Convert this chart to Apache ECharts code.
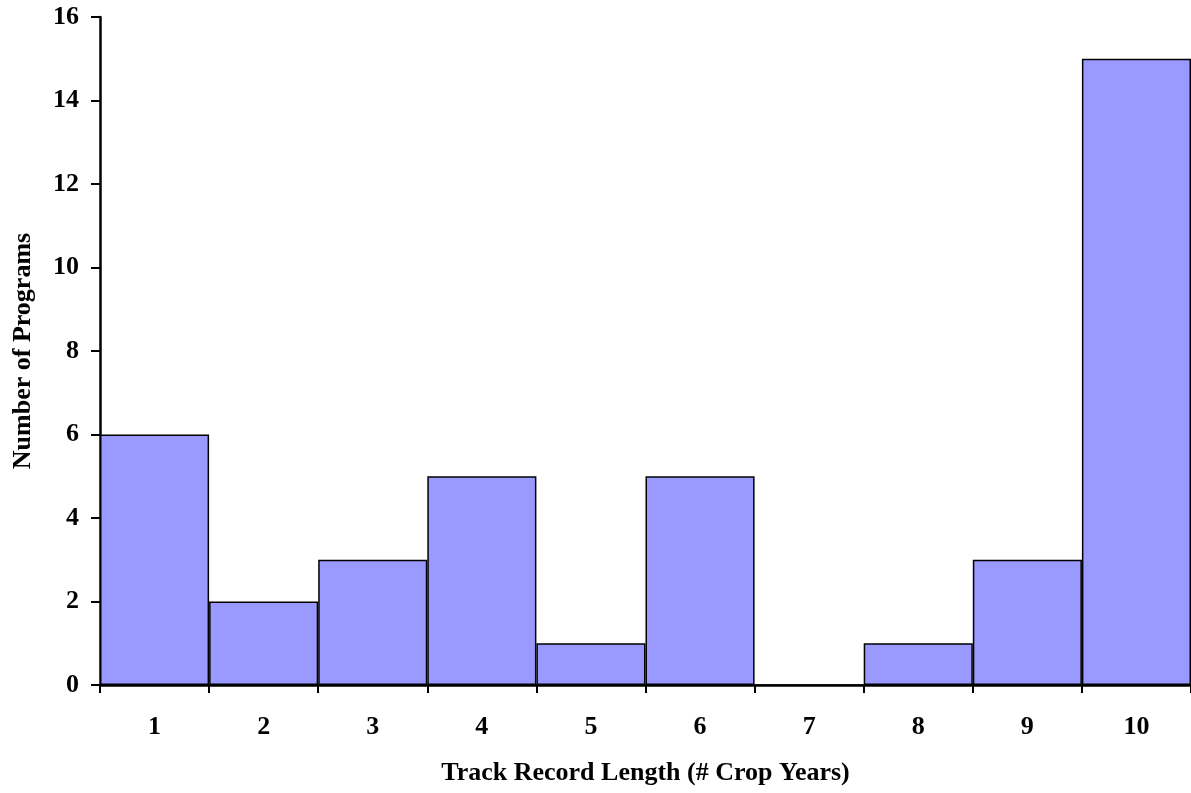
<!DOCTYPE html>
<html>
<head>
<meta charset="utf-8">
<script src="https://cdn.jsdelivr.net/npm/echarts@6/dist/echarts.min.js"></script>
<style>
  html, body { margin: 0; padding: 0; background: #fff; }
  #chart { width: 1191px; height: 793px; }
</style>
</head>
<body>
<div id="chart"></div>
<script>
// Track record lengths (crop years) and program counts
const trackYears = ['1', '2', '3', '4', '5', '6', '7', '8', '9', '10'];
const programCounts = [6, 2, 3, 5, 1, 5, 0, 1, 3, 15];
const yTicks = { min: 0, max: 16, step: 2 };

const fontFamily = '"Liberation Serif", "Times New Roman", serif';
const textStyle = { fontFamily, fontWeight: 'bold', fontSize: 26, color: '#000' };
const chart = echarts.init(document.getElementById('chart'), null, { renderer: 'canvas' });

chart.setOption({
  animation: false,
  backgroundColor: '#ffffff',
  grid: { left: 100, top: 17, width: 1093, bottom: 108, containLabel: false },
  xAxis: {
    type: 'category',
    data: trackYears,
    boundaryGap: true,
    name: 'Track Record Length (# Crop Years)',
    nameLocation: 'middle',
    nameGap: 75,
    nameTextStyle: textStyle,
    axisLine: { lineStyle: { color: '#000', width: 2.5 } },
    axisTick: { show: true, alignWithLabel: false, length: 8, lineStyle: { color: '#000', width: 2 } },
    axisLabel: Object.assign({ margin: 29 }, textStyle),
    splitLine: { show: false }
  },
  yAxis: {
    type: 'value',
    min: yTicks.min,
    max: yTicks.max,
    interval: yTicks.step,
    name: 'Number of Programs',
    nameLocation: 'middle',
    nameGap: 64,
    nameRotate: 90,
    nameTextStyle: textStyle,
    axisLine: { show: true, lineStyle: { color: '#000', width: 2.5 } },
    axisTick: { show: true, length: 9, lineStyle: { color: '#000', width: 2 } },
    axisLabel: Object.assign({ margin: 21 }, textStyle),
    splitLine: { show: false }
  },
  series: [{
    type: 'bar',
    data: programCounts,
    barCategoryGap: '0%',
    itemStyle: { color: '#9999FF', borderColor: '#000', borderWidth: 1.5 },
    emphasis: { disabled: true }
  }]
});
</script>
</body>
</html>
